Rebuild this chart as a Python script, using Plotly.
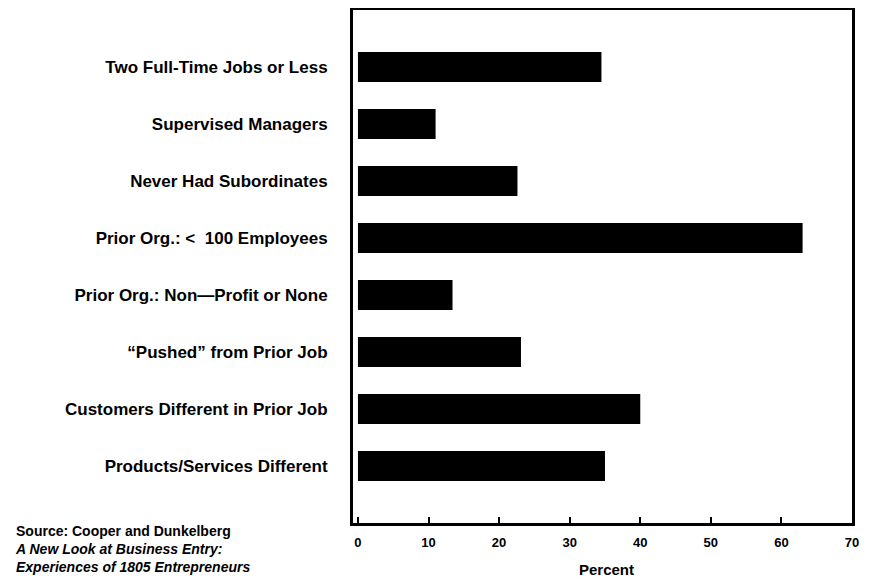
import plotly.graph_objects as go

categories = [
    "Two Full-Time Jobs or Less",
    "Supervised Managers",
    "Never Had Subordinates",
    "Prior Org.: <  100 Employees",
    "Prior Org.: Non\u2014Profit or None",
    "\u201cPushed\u201d from Prior Job",
    "Customers Different in Prior Job",
    "Products/Services Different",
]
values = [34.5, 11.0, 22.6, 63.0, 13.4, 23.1, 40.0, 35.0]
tick_vals = [0, 10, 20, 30, 40, 50, 60, 70]
tick_text = ["0", "10", "20", "30", "40", "50", "60", "70"]
source_lines = [
    "<b>Source: Cooper and Dunkelberg</b>",
    "<b><i>A New Look at Business Entry:</i></b>",
    "<b><i>Experiences of 1805 Entrepreneurs</i></b>",
]

FONT = "Liberation Sans, Arial, Helvetica, sans-serif"

fig = go.Figure(go.Bar(
    x=values,
    y=list(range(len(categories))),
    orientation="h",
    width=0.525,
    marker=dict(color="black", line=dict(width=0)),
    hoverinfo="x",
))

# page body has an 8px default margin; margins compensate for it
fig.update_layout(
    width=873, height=582,
    margin=dict(l=345, r=29, t=2, b=67),
    paper_bgcolor="white", plot_bgcolor="white",
    showlegend=False,
    font=dict(family=FONT, color="black"),
    xaxis=dict(
        automargin=False,
        range=[-0.7, 70],
        tickvals=tick_vals, ticktext=[f"<b>{t}</b>" for t in tick_text],
        ticks="inside", ticklen=6, tickwidth=2, tickcolor="black",
        showline=True, linewidth=3, linecolor="black", mirror=True,
        showgrid=False, zeroline=False,
        tickfont=dict(size=13, family=FONT),
        ticklabelstandoff=5,
    ),
    yaxis=dict(
        automargin=False,
        range=[8, -1],
        tickvals=list(range(len(categories))),
        ticktext=[f"<b>{c}</b>" for c in categories],
        ticks="", showline=True, linewidth=3, linecolor="black", mirror=True,
        showgrid=False, zeroline=False,
        tickfont=dict(size=17, family=FONT),
        ticklabelstandoff=19,
    ),
)

annots = [
    dict(
        xref="paper", yref="paper", x=0.509, y=-0.0916,
        xanchor="center", yanchor="middle", showarrow=False,
        text="<b>Percent</b>", font=dict(size=15, family=FONT),
    ),
    dict(
        xref="paper", yref="paper", x=-0.6814, y=-0.0507,
        xanchor="left", yanchor="middle", align="left", showarrow=False,
        text="<br>".join(source_lines), font=dict(size=14, family=FONT),
    ),
]
fig.update_layout(annotations=annots)

fig.write_html("out.html")
